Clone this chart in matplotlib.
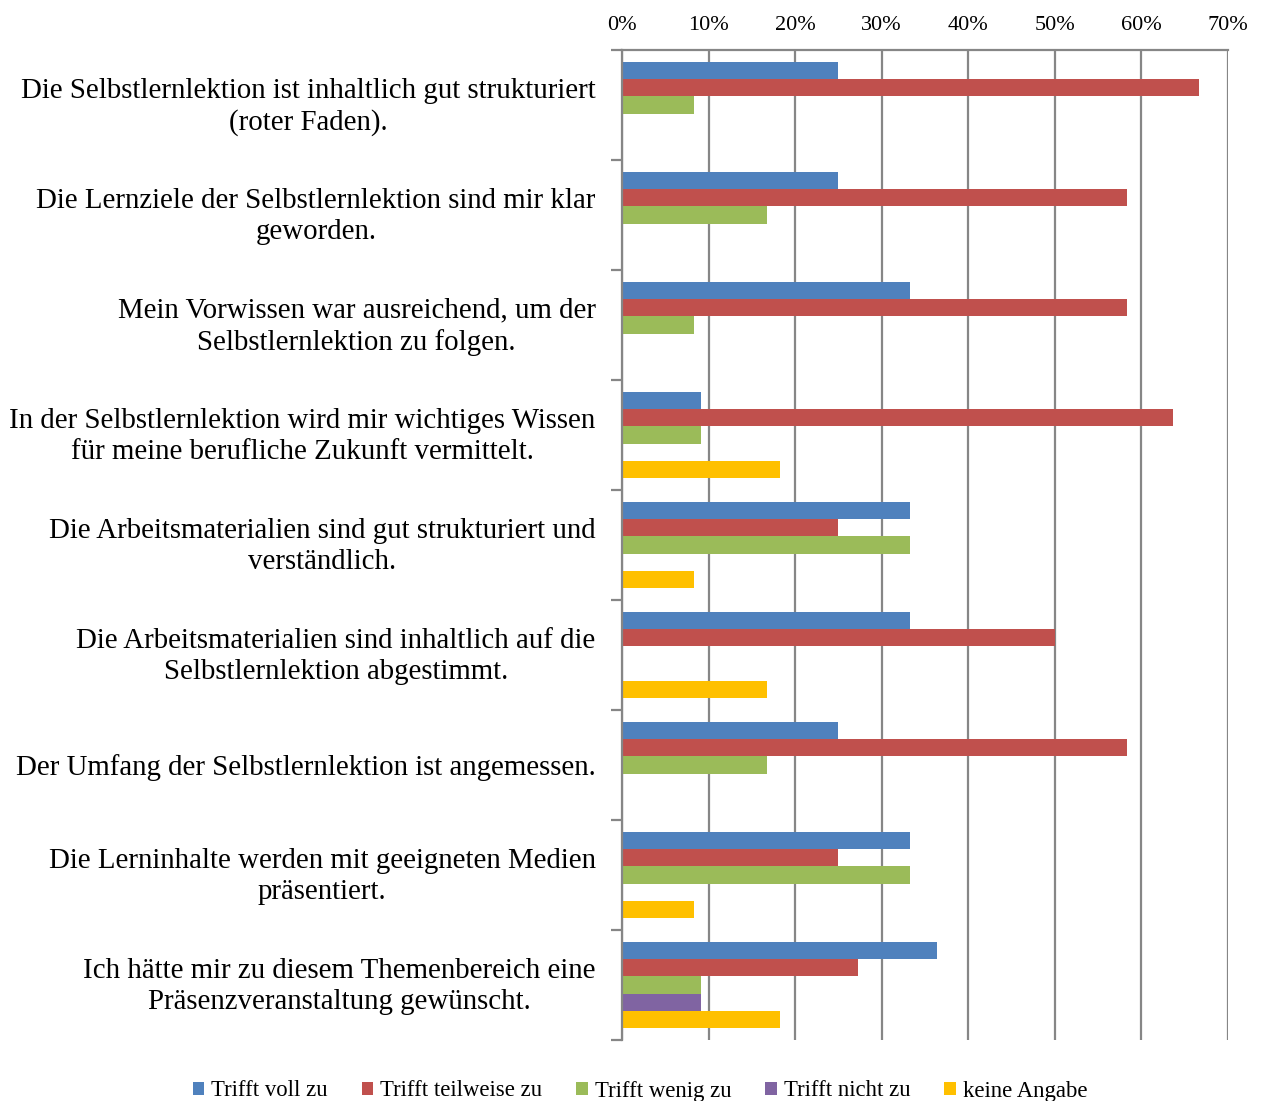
import matplotlib
matplotlib.use("Agg")
import matplotlib.pyplot as plt
import matplotlib.transforms as mtransforms
import numpy as np

categories = [
    "Die Selbstlernlektion ist inhaltlich gut strukturiert\n(roter Faden).",
    "Die Lernziele der Selbstlernlektion sind mir klar\ngeworden.",
    "Mein Vorwissen war ausreichend, um der\nSelbstlernlektion zu folgen.",
    "In der Selbstlernlektion wird mir wichtiges Wissen\nfür meine berufliche Zukunft vermittelt.",
    "Die Arbeitsmaterialien sind gut strukturiert und\nverständlich.",
    "Die Arbeitsmaterialien sind inhaltlich auf die\nSelbstlernlektion abgestimmt.",
    "Der Umfang der Selbstlernlektion ist angemessen.",
    "Die Lerninhalte werden mit geeigneten Medien\npräsentiert.",
    "Ich hätte mir zu diesem Themenbereich eine\nPräsenzveranstaltung gewünscht.",
]
series_names = ["Trifft voll zu", "Trifft teilweise zu", "Trifft wenig zu", "Trifft nicht zu", "keine Angabe"]
trifft_voll = [25.0, 25.0, 33.3, 9.1, 33.3, 33.3, 25.0, 33.3, 36.4]
trifft_teilweise = [66.7, 58.3, 58.3, 63.6, 25.0, 50.0, 58.3, 25.0, 27.3]
trifft_wenig = [8.3, 16.7, 8.3, 9.1, 33.3, 0.0, 16.7, 33.3, 9.1]
trifft_nicht = [0.0, 0.0, 0.0, 0.0, 0.0, 0.0, 0.0, 0.0, 9.1]
keine_angabe = [0.0, 0.0, 0.0, 18.2, 8.3, 16.7, 0.0, 8.3, 18.2]
tick_labels = ["0%", "10%", "20%", "30%", "40%", "50%", "60%", "70%"]
colors = ["#4F81BD", "#C0504D", "#9BBB59", "#8064A2", "#FFC000"]

all_series = [trifft_voll, trifft_teilweise, trifft_wenig, trifft_nicht, keine_angabe]

plt.rcParams["font.family"] = ["Liberation Serif", "DejaVu Serif"]

W, H = 1261, 1101
fig = plt.figure(figsize=(W / 100, H / 100), dpi=100)
ax = fig.add_axes([622 / W, 1 - 1040 / H, (1228 - 622) / W, (1040 - 50) / H])

n = len(categories)
y = np.arange(n)
bh = 0.155
for j, (vals, name, col) in enumerate(zip(all_series, series_names, colors)):
    ax.barh(y + (j - 2) * bh, vals, height=bh, color=col, label=name, linewidth=0)

ax.set_ylim(n - 0.5, -0.5)
ax.set_xlim(0, 70)
ax.xaxis.tick_top()
ax.set_xticks(np.arange(0, 71, 10))
ax.set_xticklabels(tick_labels, fontsize=16)
ax.tick_params(axis="x", length=0, pad=11, colors="#000000")
ax.grid(axis="x", color="#868686", linewidth=1.6)
ax.set_axisbelow(True)

ax.set_yticks(np.arange(-0.5, n, 1.0))
ax.set_yticklabels([])
ax.set_yticks(y, minor=True)
ax.set_yticklabels(categories, minor=True, fontsize=20.8, linespacing=1.24)
ax.tick_params(axis="y", which="major", length=8, width=1.6, color="#868686")
ax.tick_params(axis="y", which="minor", length=0, pad=19)
shift = mtransforms.ScaledTranslation(0, 4 / 100, fig.dpi_scale_trans)
for lbl in ax.get_yticklabels(minor=True):
    lbl.set_horizontalalignment("right")
    lbl.set_multialignment("center")
    if "\n" in lbl.get_text():
        lbl.set_transform(lbl.get_transform() + shift)

for s in ["right", "bottom"]:
    ax.spines[s].set_visible(False)
for s in ["left", "top"]:
    ax.spines[s].set_color("#868686")
    ax.spines[s].set_linewidth(1.6)

fig.legend(loc="center", bbox_to_anchor=(640 / W, 1 - 1091 / H), ncol=5, frameon=False,
           fontsize=16.4, handlelength=0.5, handleheight=0.5, handletextpad=0.3,
           columnspacing=1.5)

fig.savefig("out.png", dpi=100)
